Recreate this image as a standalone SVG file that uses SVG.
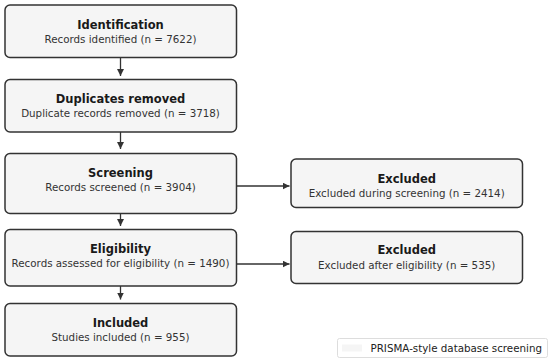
<svg xmlns="http://www.w3.org/2000/svg" width="550" height="361" viewBox="0 0 550 361">
<style>
.box{fill:#f5f5f5;stroke:#333;stroke-width:1.5}
.t{font-family:"DejaVu Sans",sans-serif;font-size:11.5px;font-weight:bold;fill:#1a1a1a;text-anchor:middle}
.s{font-family:"DejaVu Sans",sans-serif;font-size:10.3px;fill:#333;text-anchor:middle}
.c{stroke:#333;stroke-width:1.3;fill:none;marker-end:url(#ah)}
</style>
<defs>
<marker id="ah" viewBox="0 0 10 10" refX="10" refY="5" markerWidth="7" markerHeight="7" markerUnits="userSpaceOnUse" orient="auto">
<path d="M0,0 L10,5 L0,10 z" fill="#333"/>
</marker>
</defs>
<rect width="550" height="361" fill="#fff"/>
<g id="connectors">
<line class="c" x1="120.5" y1="57.5" x2="120.5" y2="76"/>
<line class="c" x1="120.5" y1="132" x2="120.5" y2="149"/>
<line class="c" x1="120.5" y1="213.5" x2="120.5" y2="226"/>
<line class="c" x1="120.5" y1="286" x2="120.5" y2="299.5"/>
<line class="c" x1="236.5" y1="186" x2="289.5" y2="186"/>
<line class="c" x1="236.5" y1="264" x2="289.5" y2="264"/>
</g>
<g id="identification">
<rect class="box" x="5" y="5" width="231.5" height="52.5" rx="5"/>
<text class="t" x="120.5" y="29">Identification</text>
<text class="s" x="120.5" y="42.7">Records identified (n = 7622)</text>
</g>
<g id="duplicates">
<rect class="box" x="5" y="79.5" width="231.5" height="52.5" rx="5"/>
<text class="t" x="120.5" y="102.5">Duplicates removed</text>
<text class="s" x="120.5" y="116.5">Duplicate records removed (n = 3718)</text>
</g>
<g id="screening">
<rect class="box" x="5" y="153.5" width="231.5" height="60" rx="5"/>
<text class="t" x="120.5" y="176.5">Screening</text>
<text class="s" x="120.5" y="190.5">Records screened (n = 3904)</text>
</g>
<g id="eligibility">
<rect class="box" x="5" y="229.5" width="231.5" height="56.5" rx="5"/>
<text class="t" x="120.5" y="252.5">Eligibility</text>
<text class="s" x="120.5" y="266.5">Records assessed for eligibility (n = 1490)</text>
</g>
<g id="included">
<rect class="box" x="5" y="303.5" width="231.5" height="52.5" rx="5"/>
<text class="t" x="120.5" y="326.5">Included</text>
<text class="s" x="120.5" y="340.5">Studies included (n = 955)</text>
</g>
<g id="excluded-screening">
<rect class="box" x="291" y="159" width="231.5" height="48.5" rx="5"/>
<text class="t" x="406.7" y="182.5">Excluded</text>
<text class="s" x="406.7" y="196.5">Excluded during screening (n = 2414)</text>
</g>
<g id="excluded-eligibility">
<rect class="box" x="291" y="231.5" width="231.5" height="52" rx="5"/>
<text class="t" x="406.7" y="254.2">Excluded</text>
<text class="s" x="406.7" y="268.8">Excluded after eligibility (n = 535)</text>
</g>
<g id="legend">
<rect x="337.5" y="338.5" width="210" height="19" rx="2" fill="#fff" stroke="#ddd" stroke-width="1"/>
<rect x="342" y="344.5" width="20" height="7" fill="#f5f5f5"/>
<text x="370.5" y="351.5" font-family="DejaVu Sans, sans-serif" font-size="10.3px" fill="#222">PRISMA-style database screening</text>
</g>
</svg>
